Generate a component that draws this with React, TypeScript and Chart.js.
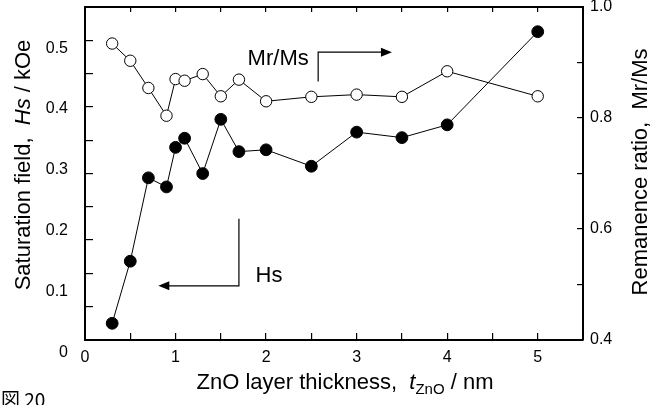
import React, { useEffect, useRef } from 'react';
import { Chart, registerables } from 'chart.js';

Chart.register(...registerables);

// ---- data ----
const thickness = [0.3, 0.5, 0.7, 0.9, 1.0, 1.1, 1.3, 1.5, 1.7, 2.0, 2.5, 3.0, 3.5, 4.0, 5.0];
const hsValues = [0.048, 0.150, 0.287, 0.272, 0.337, 0.352, 0.294, 0.383, 0.330, 0.333, 0.306, 0.362, 0.353, 0.374, 0.527];
const mrMsValues = [0.934, 0.903, 0.854, 0.804, 0.870, 0.867, 0.879, 0.839, 0.869, 0.830, 0.838, 0.842, 0.838, 0.884, 0.839];
const hsTickLabels = [0, 0.1, 0.2, 0.3, 0.4, 0.5];
const mrTickLabels = [0.4, 0.6, 0.8, 1.0];

const FAMILY = "'Liberation Sans', Arial, Helvetica, sans-serif";
const TICK_FONT = { family: FAMILY, size: 16 };
const TITLE_SIZE = 22;

type Run = { t: string; f: string; dy?: number };

function drawRuns(ctx: CanvasRenderingContext2D, runs: Run[], cx: number, cy: number, rot: number, align: 'center' | 'left' = 'center') {
  ctx.save();
  ctx.translate(cx, cy);
  ctx.rotate(rot);
  let total = 0;
  for (const r of runs) {
    ctx.font = r.f;
    total += ctx.measureText(r.t).width;
  }
  let x = align === 'center' ? -total / 2 : 0;
  ctx.fillStyle = '#000';
  ctx.textAlign = 'left';
  ctx.textBaseline = 'alphabetic';
  for (const r of runs) {
    ctx.font = r.f;
    ctx.fillText(r.t, x, r.dy || 0);
    x += ctx.measureText(r.t).width;
  }
  ctx.restore();
}

function arrowHead(ctx: CanvasRenderingContext2D, tipX: number, tipY: number, dir: number) {
  ctx.beginPath();
  ctx.moveTo(tipX, tipY);
  ctx.lineTo(tipX - dir * 11, tipY - 4.5);
  ctx.lineTo(tipX - dir * 11, tipY + 4.5);
  ctx.closePath();
  ctx.fill();
}

const annotations = {
  id: 'annotations',
  afterDraw(chart: any) {
    const ctx: CanvasRenderingContext2D = chart.ctx;
    const x = chart.scales.x;
    const yl = chart.scales.yl;
    const yr = chart.scales.yr;
    const f = (s: number, st = '') => `${st}${s}px ${FAMILY}`;
    const area = chart.chartArea;

    // Axis titles
    drawRuns(ctx, [
      { t: 'Saturation field,  ', f: f(TITLE_SIZE) },
      { t: 'Hs', f: f(TITLE_SIZE, 'italic ') },
      { t: ' / kOe', f: f(TITLE_SIZE) },
    ], 30, 165, -Math.PI / 2);

    drawRuns(ctx, [
      { t: 'Remanence ratio,  Mr/Ms', f: f(TITLE_SIZE) },
    ], 647, 172, -Math.PI / 2);

    drawRuns(ctx, [
      { t: 'ZnO layer thickness,  ', f: f(TITLE_SIZE) },
      { t: 't', f: f(TITLE_SIZE, 'italic ') },
      { t: 'ZnO', f: f(15), dy: 5 },
      { t: ' / nm', f: f(TITLE_SIZE) },
    ], (area.left + area.right) / 2 + 11, 389, 0);

    // figure caption
    ctx.save();
    ctx.fillStyle = '#000';
    ctx.font = `19px 'Noto Sans CJK JP', ${FAMILY}`;
    ctx.textAlign = 'left';
    ctx.textBaseline = 'alphabetic';
    ctx.fillText('図 20', 1, 407);
    ctx.restore();

    // Series labels with arrows
    ctx.save();
    ctx.strokeStyle = '#000';
    ctx.fillStyle = '#000';
    ctx.lineWidth = 1.2;

    drawRuns(ctx, [{ t: 'Mr/Ms', f: f(TITLE_SIZE) }], x.getPixelForValue(1.796), yr.getPixelForValue(0.896), 0, 'left');
    const mx = x.getPixelForValue(2.575);
    const my = yr.getPixelForValue(0.9185);
    ctx.beginPath();
    ctx.moveTo(mx, yr.getPixelForValue(0.8657));
    ctx.lineTo(mx, my);
    ctx.lineTo(x.getPixelForValue(3.29), my);
    ctx.stroke();
    arrowHead(ctx, x.getPixelForValue(3.39), my, 1);

    drawRuns(ctx, [{ t: 'Hs', f: f(TITLE_SIZE) }], x.getPixelForValue(1.884), yl.getPixelForValue(0.1153), 0, 'left');
    const hx = x.getPixelForValue(1.70);
    const hy = yl.getPixelForValue(0.1096);
    ctx.beginPath();
    ctx.moveTo(hx, yl.getPixelForValue(0.2198));
    ctx.lineTo(hx, hy);
    ctx.lineTo(x.getPixelForValue(0.91), hy);
    ctx.stroke();
    arrowHead(ctx, x.getPixelForValue(0.81), hy, -1);
    ctx.restore();
  },
};

const zeroPad = (s: any) => {
  s.paddingTop = 0;
  s.paddingBottom = 0;
  s.paddingLeft = 0;
  s.paddingRight = 0;
};

export default function App() {
  const ref = useRef<HTMLCanvasElement | null>(null);

  useEffect(() => {
    if (!ref.current) return;
    const chart = new Chart(ref.current, {
      type: 'line',
      data: {
        datasets: [
          {
            label: 'Mr/Ms',
            data: thickness.map((t, i) => ({ x: t, y: mrMsValues[i] })),
            xAxisID: 'x',
            yAxisID: 'yr',
            borderColor: '#000',
            borderWidth: 1,
            pointRadius: 5.7,
            pointBackgroundColor: '#fff',
            pointBorderColor: '#000',
            pointBorderWidth: 1,
            fill: false,
            tension: 0,
            clip: false,
          } as any,
          {
            label: 'Hs',
            data: thickness.map((t, i) => ({ x: t, y: hsValues[i] })),
            xAxisID: 'x',
            yAxisID: 'yl',
            borderColor: '#000',
            borderWidth: 1,
            pointRadius: 5.9,
            pointBackgroundColor: '#000',
            pointBorderColor: '#000',
            pointBorderWidth: 1,
            fill: false,
            tension: 0,
            clip: false,
          } as any,
        ],
      },
      options: {
        responsive: false,
        animation: false,
        events: [],
        layout: { padding: 0 },
        plugins: {
          legend: { display: false },
          tooltip: { enabled: false },
          title: { display: false },
        },
        scales: {
          x: {
            type: 'linear',
            position: 'bottom',
            min: 0,
            max: 5.5,
            ticks: {
              stepSize: 0.5,
              autoSkip: false,
              maxRotation: 0,
              color: '#000',
              font: TICK_FONT,
              padding: 15,
              callback: (v: any) => (Number.isInteger(v) ? String(v) : ''),
            },
            grid: { drawOnChartArea: false, drawTicks: true, tickLength: -7, color: '#000', lineWidth: 1.2 },
            border: { display: true, color: '#000', width: 2 },
            afterFit: (s: any) => { s.height = 65; zeroPad(s); },
          },
          xTop: {
            type: 'linear',
            position: 'top',
            min: 0,
            max: 5.5,
            ticks: { stepSize: 0.5, display: false },
            grid: { drawOnChartArea: false, drawTicks: true, tickLength: -5, color: '#000', lineWidth: 1.2 },
            border: { display: true, color: '#000', width: 2 },
            afterFit: (s: any) => { s.height = 5; zeroPad(s); },
          },
          y: {
            type: 'linear',
            position: 'left',
            weight: 0,
            min: 0,
            max: 0.5,
            ticks: { stepSize: 0.05, display: false },
            grid: { drawOnChartArea: false, drawTicks: true, tickLength: -8, color: '#000', lineWidth: 1.2 },
            border: { display: true, color: '#000', width: 2 },
            afterFit: (s: any) => { s.width = 0; zeroPad(s); },
          },
          yl: {
            type: 'linear',
            position: 'left',
            weight: 1,
            min: 0.0206,
            max: 0.5677,
            afterBuildTicks: (s: any) => { s.ticks = hsTickLabels.map((v) => ({ value: v })); },
            ticks: {
              autoSkip: false,
              padding: 17,
              color: '#000',
              font: TICK_FONT,
              callback: (v: any) => (v === 0 ? '0' : Number(v).toFixed(1)),
            },
            grid: { display: false, drawTicks: false },
            border: { display: false },
            afterFit: (s: any) => { s.width = 85; zeroPad(s); },
          },
          yr: {
            type: 'linear',
            position: 'right',
            min: 0.4,
            max: 1.0,
            ticks: {
              stepSize: 0.1,
              autoSkip: false,
              padding: 13,
              color: '#000',
              font: TICK_FONT,
              callback: (v: any) => {
                const k = Math.round(Number(v) * 10);
                return mrTickLabels.some((m) => Math.round(m * 10) === k) ? (k / 10).toFixed(1) : '';
              },
            },
            grid: { drawOnChartArea: false, drawTicks: true, tickLength: -6, color: '#000', lineWidth: 1.2 },
            border: { display: true, color: '#000', width: 2 },
            afterFit: (s: any) => { s.width = 77; zeroPad(s); },
          },
        },
      } as any,
      plugins: [annotations],
    });
    return () => chart.destroy();
  }, []);

  return (
    <div style={{ position: 'fixed', left: 0, top: 0, width: 660, height: 405, background: '#fff' }}>
      <canvas ref={ref} width={660} height={405} style={{ display: 'block' }} />
    </div>
  );
}
